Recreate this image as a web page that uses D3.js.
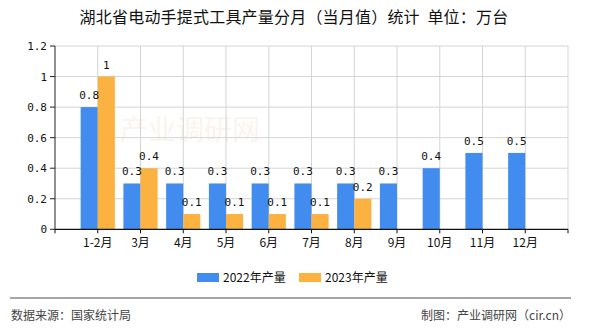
<!DOCTYPE html>
<html><head><meta charset="utf-8">
<script src="https://cdn.jsdelivr.net/npm/d3@7/dist/d3.min.js"></script>
<style>
html,body{margin:0;padding:0;background:#fff;}
svg{display:block;}
text{white-space:pre;}
</style></head>
<body>
<script>
const categories = ["1-2月","3月","4月","5月","6月","7月","8月","9月","10月","11月","12月"];
const values2022 = [0.8,0.3,0.3,0.3,0.3,0.3,0.3,0.3,0.4,0.5,0.5];
const values2023 = [1,0.4,0.1,0.1,0.1,0.1,0.2];
const yTicks = [0,0.2,0.4,0.6,0.8,1,1.2];
const seriesNames = ["2022年产量","2023年产量"];
const title = "湖北省电动手提式工具产量分月（当月值）统计  单位：万台";
const sourceText = "数据来源：国家统计局";
const creditText = "制图：产业调研网（cir.cn）";

const W = 590, H = 330;
const colors = ["#428bef","#fbb240"];
const mLeft = 55, mRight = 568, mTop = 46, mBottom = 229.3;
const numFont = "'DejaVu Sans Mono', monospace";
const cjkFont = "'Noto Sans CJK SC', 'Noto Sans', sans-serif";

const svg = d3.select("body").append("svg").attr("width", W).attr("height", H);

const x = d3.scalePoint().domain(categories).range([mLeft, mRight]).padding(1);
const y = d3.scaleLinear().domain([0, 1.2]).range([mBottom, mTop]);
const bw = x.step() * 0.4;

// watermark
svg.append("text").attr("x", 190).attr("y", 140).attr("text-anchor", "middle")
  .attr("font-family", cjkFont).attr("font-size", 28).attr("fill", "#f3d9c8").attr("opacity", 0.3)
  .text("产业调研网");

// horizontal grid
svg.append("g").selectAll("line").data(yTicks.filter(d => d > 0)).join("line")
  .attr("x1", mLeft).attr("x2", mRight).attr("y1", d => y(d)).attr("y2", d => y(d))
  .attr("stroke", "#d4d4d4").attr("stroke-width", 1);
// vertical grid
svg.append("g").selectAll("line").data(categories.map(c => x(c)).concat([mRight])).join("line")
  .attr("x1", d => d).attr("x2", d => d).attr("y1", mTop).attr("y2", mBottom)
  .attr("stroke", "#d4d4d4").attr("stroke-width", 1);

// bars
svg.append("g").selectAll("rect").data(values2022).join("rect")
  .attr("x", (d, i) => x(categories[i]) - bw).attr("width", bw)
  .attr("y", d => y(d)).attr("height", d => y(0) - y(d)).attr("fill", colors[0]);
svg.append("g").selectAll("rect").data(values2023).join("rect")
  .attr("x", (d, i) => x(categories[i])).attr("width", bw)
  .attr("y", d => y(d)).attr("height", d => y(0) - y(d)).attr("fill", colors[1]);

// value labels
const fmt = d => String(d);
svg.append("g").selectAll("text").data(values2022).join("text")
  .attr("x", (d, i) => x(categories[i]) - bw / 2).attr("y", d => y(d) - 8)
  .attr("text-anchor", "middle").attr("font-family", numFont).attr("font-size", 11).attr("fill", "#111")
  .text(fmt);
svg.append("g").selectAll("text").data(values2023).join("text")
  .attr("x", (d, i) => x(categories[i]) + bw / 2).attr("y", d => y(d) - 8)
  .attr("text-anchor", "middle").attr("font-family", numFont).attr("font-size", 11).attr("fill", "#111")
  .text(fmt);

// y axis
const yAxis = svg.append("g");
yAxis.append("line").attr("x1", mLeft).attr("x2", mLeft).attr("y1", mTop).attr("y2", mBottom).attr("stroke", "#222");
yAxis.selectAll("line.t").data(yTicks).join("line").attr("class", "t")
  .attr("x1", mLeft - 5).attr("x2", mLeft).attr("y1", d => y(d)).attr("y2", d => y(d)).attr("stroke", "#222");
yAxis.selectAll("text").data(yTicks).join("text")
  .attr("x", mLeft - 8).attr("y", d => y(d) + 4).attr("text-anchor", "end")
  .attr("font-family", numFont).attr("font-size", 11).attr("fill", "#111")
  .text(d => String(d));

// x axis
const xAxis = svg.append("g");
xAxis.append("line").attr("x1", mLeft).attr("x2", mRight).attr("y1", mBottom).attr("y2", mBottom).attr("stroke", "#111").attr("stroke-width", 1.2);
xAxis.selectAll("line.t").data([mLeft].concat(categories.map(c => x(c))).concat([mRight])).join("line").attr("class", "t")
  .attr("x1", d => d).attr("x2", d => d).attr("y1", mBottom).attr("y2", mBottom + 4).attr("stroke", "#111");
xAxis.selectAll("text").data(categories).join("text")
  .attr("x", d => x(d)).attr("y", mBottom + 18).attr("text-anchor", "middle")
  .attr("font-family", cjkFont).attr("font-size", 12).attr("fill", "#111")
  .text(d => d);

// title
svg.append("text").attr("x", 294).attr("y", 23).attr("text-anchor", "middle")
  .attr("font-family", cjkFont).attr("font-size", 16).attr("letter-spacing", 0.2).attr("fill", "#111")
  .text(title);

// legend
const legendX = [197, 299];
const lg = svg.append("g").selectAll("g").data(seriesNames).join("g")
  .attr("transform", (d, i) => `translate(${legendX[i]},273)`);
lg.append("rect").attr("width", 22).attr("height", 9).attr("fill", (d, i) => colors[i]);
lg.append("text").attr("x", 26).attr("y", 9).attr("font-family", cjkFont).attr("font-size", 12).attr("fill", "#111").text(d => d);

// footer
svg.append("line").attr("x1", 10).attr("x2", 571).attr("y1", 298).attr("y2", 298).attr("stroke", "#888").attr("stroke-width", 1.5);
svg.append("text").attr("x", 11).attr("y", 320).attr("font-family", cjkFont).attr("font-size", 12).attr("fill", "#444").text(sourceText);
svg.append("text").attr("x", 571).attr("y", 320).attr("text-anchor", "end").attr("font-family", cjkFont).attr("font-size", 12).attr("fill", "#444").text(creditText);
</script>
</body></html>
